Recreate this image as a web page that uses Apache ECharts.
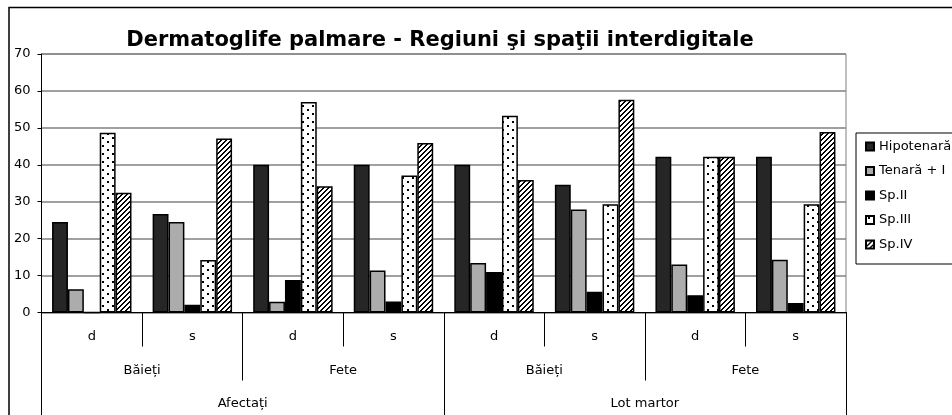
<!DOCTYPE html>
<html>
<head>
<meta charset="utf-8">
<script src="https://cdn.jsdelivr.net/npm/echarts@6/dist/echarts.min.js"></script>
<style>
  html, body { margin: 0; padding: 0; background: #fff; }
  #chart { width: 952px; height: 415px; }
</style>
</head>
<body>
<div id="chart"></div>
<script>
// Category levels of the horizontal axis (innermost first)
const sides = ['d', 's', 'd', 's', 'd', 's', 'd', 's'];
const sexes = ['Băieți', 'Fete', 'Băieți', 'Fete'];
const lots = ['Afectați', 'Lot martor'];

// Series (percentages per palm region / interdigital space)
const seriesNames = ['Hipotenară', 'Tenară + I', 'Sp.II', 'Sp.III', 'Sp.IV'];
const hipotenara = [24.5, 26.7, 40.0, 40.0, 40.0, 34.6, 42.2, 42.2];
const tenara = [6.3, 24.5, 2.9, 11.4, 13.4, 27.9, 13.0, 14.3];
const sp2 = [0, 2.1, 8.8, 3.0, 11.0, 5.6, 4.7, 2.6];
const sp3 = [48.7, 14.2, 57.0, 37.1, 53.3, 29.3, 42.2, 29.3];
const sp4 = [32.4, 47.1, 34.2, 45.9, 35.9, 57.6, 42.2, 48.9];

// Value axis ticks
const yMin = 0, yMax = 70, yStep = 10;

const FONT = "'DejaVu Sans', sans-serif";

// Fill patterns: staggered dots and "////" hatching
function dotTile() {
  const c = document.createElement('canvas');
  c.width = 10; c.height = 8;
  const g = c.getContext('2d');
  g.fillStyle = '#fff'; g.fillRect(0, 0, 10, 8);
  g.fillStyle = '#000';
  g.fillRect(2, 1, 2, 2);
  g.fillRect(7, 5, 2, 2);
  return c;
}
function hatchTile() {
  const n = 5;
  const c = document.createElement('canvas');
  c.width = n; c.height = n;
  const g = c.getContext('2d');
  g.fillStyle = '#fff'; g.fillRect(0, 0, n, n);
  g.fillStyle = '#000';
  for (let x = 0; x < n; x++) {
    for (let y = 0; y < n; y++) {
      if ((x + y) % n < 2) g.fillRect(x, y, 1, 1);
    }
  }
  return c;
}

const fills = [
  '#262626',
  '#acacac',
  '#000000',
  { image: dotTile(), repeat: 'repeat' },
  { image: hatchTile(), repeat: 'repeat' }
];
const values = [hipotenara, tenara, sp2, sp3, sp4];

const labelStyle = { color: '#000', fontFamily: FONT, fontSize: 13 };

const chart = echarts.init(document.getElementById('chart'), null, { renderer: 'canvas' });

chart.setOption({
  animation: false,
  backgroundColor: '#fff',
  title: {
    text: 'Dermatoglife palmare - Regiuni şi spaţii interdigitale',
    left: 440,
    top: 30,
    textAlign: 'center',
    padding: 0,
    textStyle: { color: '#000', fontFamily: FONT, fontWeight: 'bold', fontSize: 21 }
  },
  graphic: [{
    type: 'rect',
    silent: true,
    shape: { x: 9, y: 7.5, width: 1000, height: 1000 },
    style: { fill: null, stroke: '#000', lineWidth: 1.5 }
  }],
  legend: {
    orient: 'vertical',
    left: 856,
    top: 133,
    padding: [7, 20, 13, 9],
    itemGap: 11.5,
    itemWidth: 8,
    itemHeight: 8,
    icon: 'rect',
    borderColor: '#000',
    borderWidth: 1,
    textStyle: labelStyle,
    data: seriesNames
  },
  grid: {
    left: 41.5,
    right: 106,
    top: 54,
    bottom: 102.5,
    show: true,
    borderColor: '#808080',
    borderWidth: 1,
    containLabel: false
  },
  xAxis: [
    {
      type: 'category',
      data: sides,
      position: 'bottom',
      axisLine: { show: true, lineStyle: { color: '#000', width: 1 } },
      axisTick: { show: true, interval: 0, length: 34, lineStyle: { color: '#000', width: 1 } },
      axisLabel: Object.assign({ interval: 0, margin: 18 }, labelStyle),
      splitLine: { show: false }
    },
    {
      type: 'category',
      data: sexes,
      position: 'bottom',
      axisLine: { show: false },
      axisTick: { show: true, interval: 0, length: 68, lineStyle: { color: '#000', width: 1 } },
      axisLabel: Object.assign({ interval: 0, margin: 52 }, labelStyle),
      splitLine: { show: false }
    },
    {
      type: 'category',
      data: lots,
      position: 'bottom',
      axisLine: { show: false },
      axisTick: { show: true, interval: 0, length: 110, lineStyle: { color: '#000', width: 1 } },
      axisLabel: Object.assign({ interval: 0, margin: 85 }, labelStyle),
      splitLine: { show: false }
    }
  ],
  yAxis: {
    type: 'value',
    min: yMin,
    max: yMax,
    interval: yStep,
    axisLine: { show: true, lineStyle: { color: '#000', width: 1 } },
    axisTick: { show: true, length: 4, lineStyle: { color: '#000', width: 1 } },
    axisLabel: Object.assign({ margin: 11 }, labelStyle),
    splitLine: { show: true, lineStyle: { color: '#808080', width: 1.5 } }
  },
  series: seriesNames.map((name, i) => ({
    name: name,
    type: 'bar',
    xAxisIndex: 0,
    data: values[i],
    barGap: '0%',
    barCategoryGap: '21%',
    itemStyle: { color: fills[i], borderColor: '#000', borderWidth: 1.5 },
    emphasis: { disabled: true }
  }))
});
</script>
</body>
</html>
